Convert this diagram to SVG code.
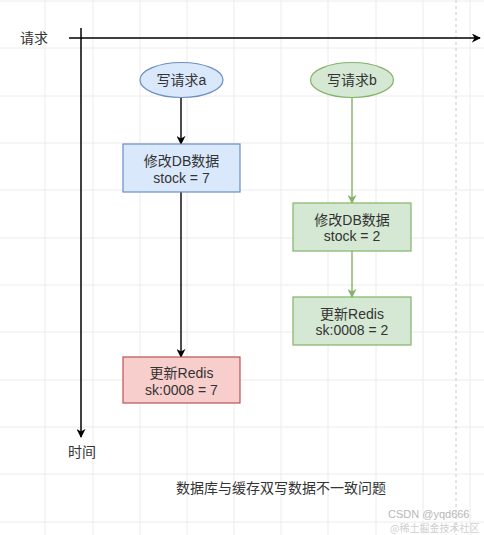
<svg xmlns="http://www.w3.org/2000/svg" width="484" height="535" viewBox="0 0 484 535">
<style>
.grid{stroke:#ececec;stroke-width:1}
.t{font-family:"Liberation Sans","Noto Sans CJK SC",sans-serif;font-size:14px;fill:#333;text-anchor:middle}
.lbl{font-family:"Noto Sans CJK SC","Liberation Sans",sans-serif;font-size:14px;fill:#333}
.ax{stroke:#000;stroke-width:1.5;fill:none}
.blk{stroke:#000;stroke-width:1.4;fill:none}
.grn{stroke:#82b366;stroke-width:1.4;fill:none}
.blue{fill:#dae8fc;stroke:#6c8ebf;stroke-width:1.2}
.green{fill:#d5e8d4;stroke:#82b366;stroke-width:1.2}
.red{fill:#f8cecc;stroke:#b85450;stroke-width:1.2}
</style>
<defs>
<marker id="ab" viewBox="0 0 10 10" refX="9" refY="5" markerWidth="9" markerHeight="9" markerUnits="userSpaceOnUse" orient="auto"><path d="M0,0 L10,5 L0,10 L3,5 Z" fill="#000"/></marker>
<marker id="ag" viewBox="0 0 10 10" refX="9" refY="5" markerWidth="9" markerHeight="9" markerUnits="userSpaceOnUse" orient="auto"><path d="M0,0 L10,5 L0,10 L3,5 Z" fill="#82b366"/></marker>
<marker id="aa" viewBox="0 0 10 10" refX="9" refY="5" markerWidth="9" markerHeight="9" markerUnits="userSpaceOnUse" orient="auto"><path d="M0,0 L10,5 L0,10 L3,5 Z" fill="#000"/></marker>
</defs>
<rect width="484" height="535" fill="#ffffff"/>
<g id="grid">
<path class="grid" d="M45,0V535M93,0V535M140,0V535M187,0V535M234,0V535M281,0V535M328,0V535M376,0V535M423,0V535M470,0V535"/>
<path class="grid" d="M0,1H484M0,48H484M0,96H484M0,143H484M0,190H484M0,238H484M0,285H484M0,332H484M0,380H484M0,427H484M0,474H484M0,522H484"/>
<path d="M456,0V535" stroke="#c8c8c8" stroke-width="1" stroke-dasharray="3,3"/>
</g>
<g id="axes">
<path class="ax" d="M69,38H480" marker-end="url(#aa)"/>
<path class="ax" d="M81,28V437" marker-end="url(#aa)"/>
<text class="lbl" x="20" y="43">请求</text>
<text class="lbl" x="68" y="457">时间</text>
</g>
<g id="connectors">
<path class="blk" d="M181,98V144" marker-end="url(#ab)"/>
<path class="blk" d="M181,192V357" marker-end="url(#ab)"/>
<path class="grn" d="M352,98V203" marker-end="url(#ag)"/>
<path class="grn" d="M352,251V297" marker-end="url(#ag)"/>
</g>
<g id="reqA">
<ellipse class="blue" cx="181.5" cy="80" rx="41.5" ry="17.5"/>
<text class="t" x="181.5" y="85">写请求a</text>
</g>
<g id="reqB">
<ellipse class="green" cx="352" cy="80" rx="41.5" ry="17.5"/>
<text class="t" x="352" y="85">写请求b</text>
</g>
<g id="dbA">
<rect class="blue" x="123" y="144" width="117" height="48"/>
<text class="t" x="181.5" y="166">修改DB数据</text>
<text class="t" x="181.5" y="183">stock = 7</text>
</g>
<g id="redisA">
<rect class="red" x="123" y="357" width="117" height="46"/>
<text class="t" x="181.5" y="378">更新Redis</text>
<text class="t" x="181.5" y="395">sk:0008 = 7</text>
</g>
<g id="dbB">
<rect class="green" x="293" y="203" width="118" height="48"/>
<text class="t" x="352" y="225">修改DB数据</text>
<text class="t" x="352" y="241">stock = 2</text>
</g>
<g id="redisB">
<rect class="green" x="293" y="297" width="118" height="48"/>
<text class="t" x="352" y="319">更新Redis</text>
<text class="t" x="352" y="335">sk:0008 = 2</text>
</g>
<g id="caption">
<text class="lbl" x="176" y="493">数据库与缓存双写数据不一致问题</text>
<text x="388" y="518" font-family="Liberation Sans,sans-serif" font-size="11" fill="#b8b8b8">CSDN @yqd666</text>
<text x="390" y="532" font-family="Noto Sans CJK SC,sans-serif" font-size="10" fill="#cfcfcf">@稀土掘金技术社区</text>
</g>
</svg>
